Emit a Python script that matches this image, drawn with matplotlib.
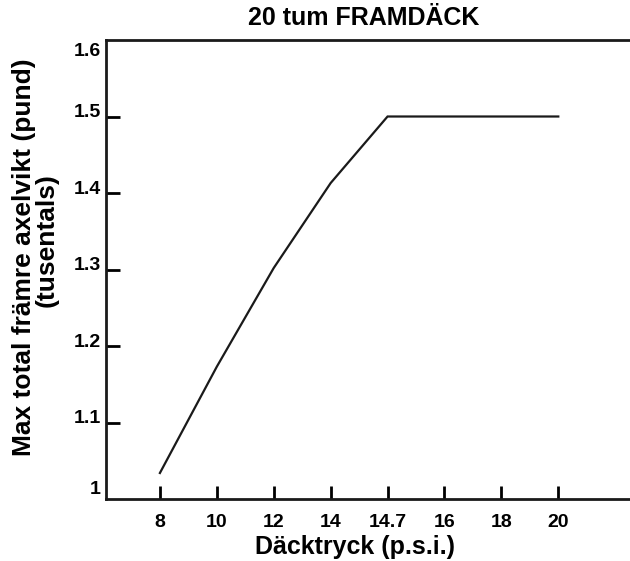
import matplotlib.pyplot as plt
import matplotlib.transforms as mtransforms

plt.rcParams['font.family'] = ['Liberation Sans', 'DejaVu Sans']

# tyre pressure categories (psi) and max front axle weight (thousands of lb)
pressure_labels = ["8", "10", "12", "14", "14.7", "16", "18", "20"]
axle_weight = [1.034, 1.173, 1.302, 1.413, 1.50, 1.50, 1.50, 1.50]
y_ticks = [1.0, 1.1, 1.2, 1.3, 1.4, 1.5, 1.6]
y_labels = ["1", "1.1", "1.2", "1.3", "1.4", "1.5", "1.6"]

fig = plt.figure(figsize=(6.3, 5.61), dpi=100)
ax = fig.add_axes([0.168, 0.1105, 0.832, 0.8182])

x = list(range(len(pressure_labels)))
ax.plot(x, axle_weight, color="#1a1a1a", lw=1.6, solid_joinstyle="miter")

ax.set_xlim(-0.95, 8.26)
ax.set_ylim(1.0, 1.6)

ax.set_xticks(x)
ax.set_xticklabels(pressure_labels, fontsize=14, fontweight="bold")
ax.set_yticks(y_ticks)
ax.set_yticklabels(y_labels, fontsize=14, fontweight="bold")

ax.tick_params(axis="x", direction="in", length=9.5, width=2, pad=11)
ax.tick_params(axis="y", direction="in", length=10, width=2, pad=3.5)

# no tick marks at 1 and 1.6, labels nudged like the original
yt = ax.yaxis.get_major_ticks()
for i, t in enumerate(yt):
    dy = 4.3
    if i == 0:
        dy = 8
        t.tick1line.set_visible(False)
    if i == len(yt) - 1:
        dy = -7
        t.tick1line.set_visible(False)
    t.label1.set_transform(t.label1.get_transform() +
                           mtransforms.ScaledTranslation(0, dy / 72, fig.dpi_scale_trans))

for s in ["left", "bottom", "top"]:
    ax.spines[s].set_linewidth(2)
    ax.spines[s].set_color("#1a1a1a")
ax.spines["right"].set_visible(False)

fig.text(364 / 630, 1 - 18 / 561, "20 tum FRAMDÄCK", ha="center", va="center",
         fontsize=18, fontweight="bold")
fig.text(355 / 630, 1 - 547 / 561, "Däcktryck (p.s.i.)", ha="center", va="center",
         fontsize=18, fontweight="bold")
fig.text(24 / 630, 1 - 257 / 561, "Max total främre axelvikt (pund)", ha="center",
         va="center", rotation=90, fontsize=19, fontweight="bold")
fig.text(47 / 630, 1 - 240 / 561, "(tusentals)", ha="center", va="center",
         rotation=90, fontsize=19, fontweight="bold")

fig.savefig("out.png", dpi=100)
